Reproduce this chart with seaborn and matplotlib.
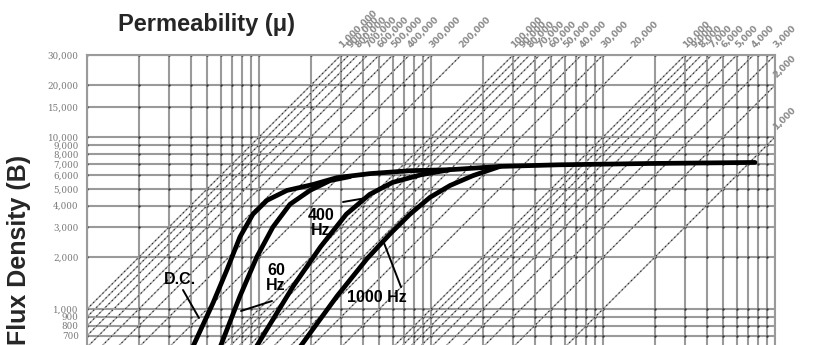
import matplotlib
matplotlib.use("Agg")
import matplotlib.pyplot as plt
import numpy as np
import pandas as pd
import seaborn as sns

# magnetizing force H (oersted) and flux density B (gauss)
dc_h = [0.00403, 0.00540, 0.00652, 0.00775, 0.00922, 0.01113, 0.01455, 0.0206, 0.0284, 0.0441, 0.0755, 0.129, 0.252, 0.56, 1.85, 7.65]
dc_b = [574, 1083, 1698, 2628, 3562, 4287, 4895, 5300, 5810, 6130, 6375, 6460, 6750, 6900, 7020, 7120]

hz60_h = [0.00578, 0.00775, 0.00973, 0.01205, 0.01513, 0.01979, 0.0259, 0.0338]
hz60_b = [559, 1188, 2017, 3000, 4066, 4895, 5585, 5890]

hz400_h = [0.0092, 0.0158, 0.0228, 0.0322, 0.0440, 0.0595, 0.0880, 0.129]
hz400_b = [559, 1356, 2302, 3562, 4642, 5440, 6047, 6460]

hz1000_h = [0.0164, 0.0284, 0.0425, 0.0578, 0.0755, 0.0986, 0.129, 0.1754, 0.252]
hz1000_b = [559, 1188, 1964, 2734, 3562, 4460, 5228, 5967, 6750]

# permeability lines (mu = B / H)
mu_values = [1000000, 900000, 800000, 700000, 600000, 500000, 400000, 300000, 200000,
             100000, 90000, 80000, 70000, 60000, 50000, 40000, 30000, 20000,
             10000, 9000, 8000, 7000, 6000, 5000, 4000, 3000, 2000, 1000]

b_ticks = [30000, 20000, 15000, 10000, 9000, 8000, 7000, 6000, 5000, 4000, 3000, 2000,
           1000, 900, 800, 700]
b_labels = ["30,000", "20,000", "15,000", "10,000", "9,000", "8,000", "7,000", "6,000",
            "5,000", "4,000", "3,000", "2,000", "1,000", "900", "800", "700"]

H_MIN, H_MAX = 0.001, 10
B_MIN, B_MAX = 500, 30000

frames = []
for name, h, b in [("D.C.", dc_h, dc_b), ("60 Hz", hz60_h, hz60_b),
                   ("400 Hz", hz400_h, hz400_b), ("1000 Hz", hz1000_h, hz1000_b)]:
    frames.append(pd.DataFrame({"H": h, "B": b, "curve": name}))
df = pd.concat(frames, ignore_index=True)

sns.set_theme(style="white")
plt.rcParams["font.family"] = ["Liberation Sans", "DejaVu Sans"]

W, HT = 814, 345
fig = plt.figure(figsize=(W / 100, HT / 100), dpi=100)

# plot frame in pixels: left 87, right 775, top 55; bottom runs past the image
x0, x1, y0 = 87, 775, 55
dec_px = (x1 - x0) / np.log10(H_MAX / H_MIN)
y1 = y0 + dec_px * np.log10(B_MAX / B_MIN)
ax = fig.add_axes([x0 / W, 1 - y1 / HT, (x1 - x0) / W, (y1 - y0) / HT])
ax.set_xscale("log")
ax.set_yscale("log")
ax.set_xlim(H_MIN, H_MAX)
ax.set_ylim(B_MIN, B_MAX)


def px(x, y):
    # pixel position -> data position (used for annotation placement)
    hx = H_MIN * 10 ** ((x - x0) / dec_px)
    by = B_MAX / 10 ** ((y - y0) / dec_px)
    return hx, by


# grid with dark dots where the lines cross
xgrid = [m * 10.0 ** e for e in range(-3, 1) for m in range(1, 10)] + [10]
for xv in xgrid:
    ax.axvline(xv, color="#9a9a9a", lw=1.5, zorder=1)
for yv in b_ticks + [600]:
    ax.axhline(yv, color="#9a9a9a", lw=1.5, zorder=1)
gx, gy = np.meshgrid(xgrid, b_ticks)
ax.scatter(gx.ravel(), gy.ravel(), s=3, color="#333333", lw=0, zorder=2)

# permeability diagonals
hh = np.array([H_MIN, H_MAX])
for mu in mu_values:
    ax.plot(hh, mu * hh, color="#a8a8a8", lw=1.0, zorder=2)
    ax.plot(hh, mu * hh, color="#222222", lw=0.7, ls=(0, (1.5, 3)), zorder=2)
    h_top = B_MAX / mu
    if h_top <= H_MAX:
        tx, ty = h_top, B_MAX
    else:
        tx, ty = H_MAX, mu * H_MAX
    ax.annotate(f"{mu:,}", (tx, ty), xytext=(2, 4), textcoords="offset points",
                rotation=45, rotation_mode="anchor", ha="left", va="bottom",
                fontsize=6.5, color="#8a8a8a", fontweight="bold",
                family="DejaVu Sans", annotation_clip=False)

sns.lineplot(data=df, x="H", y="B", hue="curve", palette=["black"] * 4,
             sort=False, estimator=None, lw=3.4, legend=False, ax=ax, zorder=5)

for sp in ax.spines.values():
    sp.set_color("#9a9a9a")
    sp.set_linewidth(1.5)

ax.set_yticks(b_ticks)
ax.set_yticklabels(b_labels, fontsize=6.3, color="#777777", family="DejaVu Serif")
ax.yaxis.set_minor_locator(matplotlib.ticker.NullLocator())
ax.set_xticks([])
ax.xaxis.set_minor_locator(matplotlib.ticker.NullLocator())
ax.tick_params(axis="y", length=0, pad=6)
ax.set_xlabel("")
ax.set_ylabel("")

# curve labels and leaders
txt = dict(fontsize=11.5, fontweight="bold", color="black", ha="center", va="center", zorder=7)
ax.text(*px(180, 279), "D.C.", **txt)
ax.text(*px(276, 278), "60\nHz", linespacing=0.95, **txt)
ax.text(*px(321, 223), "400\nHz", linespacing=0.95, **txt)
ax.text(*px(377, 298), "1000 Hz", **txt)
lead = dict(color="black", lw=1.4, zorder=6)
for (ax_, ay_), (bx_, by_) in [((183, 290), (199, 318)), ((272, 301), (241, 311)),
                               ((343, 202), (366, 198)), ((401, 287), (384, 243))]:
    p, q = px(ax_, ay_), px(bx_, by_)
    ax.plot([p[0], q[0]], [p[1], q[1]], **lead)

fig.text(206 / W, 1 - 25 / HT, "Permeability (μ)", fontsize=17, fontweight="bold",
         ha="center", va="center")
fig.text(19 / W, 1 - 250 / HT, "Flux Density (B)", fontsize=18, fontweight="bold",
         ha="center", va="center", rotation=90)

fig.savefig("out.png", dpi=100)
